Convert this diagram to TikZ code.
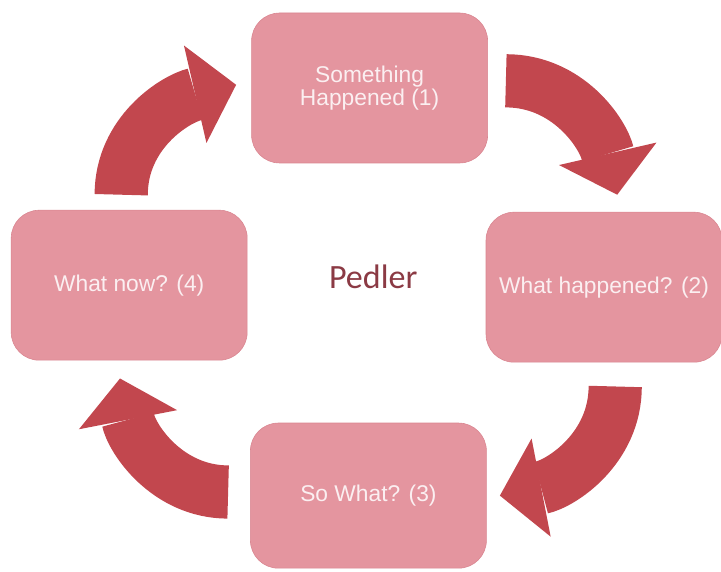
\documentclass[tikz,border=0pt]{standalone}
\usepackage{fontspec}
\setmainfont{Liberation Sans}
\newfontfamily\calfont{Carlito}
\usetikzlibrary{arrows.meta}
\definecolor{felt}{HTML}{E4959F}
\definecolor{feltedge}{HTML}{D9848F}
\definecolor{loopred}{HTML}{C2474E}
\definecolor{paper}{HTML}{FBEFF1}
\definecolor{hubtext}{HTML}{8B3A44}

\begin{document}
\begin{tikzpicture}[
  stage/.style  = {fill=felt, draw=feltedge, line width=0.4pt, rounded corners=0.7cm,
                   minimum width=5.9cm, minimum height=3.75cm, align=center,
                   text=paper, font=\fontsize{16.2}{15}\selectfont, inner sep=0pt},
  bigarr/.style = {draw=loopred, line width=1.33cm,
                   -{Triangle[length=1.05cm, width=2.5cm, line width=0pt]}},
  hub/.style    = {text=hubtext, font=\calfont\fontsize{24.2}{28}\selectfont, anchor=base},
]
\useasboundingbox (0,0) rectangle (18.025,-14.3);

% ---------- stages ----------
\node[stage] (n1) at (9.24,-2.20)  {Something\\Happened (1)};
\node[stage] (n2) at (15.10,-7.18) {What happened? (2)};
\node[stage, minimum height=3.63cm] (n3) at (9.21,-12.39) {So What? (3)};
\node[stage] (n4) at (3.23,-7.13)  {What now? (4)};

\node[hub] (hubname) at (9.33,-7.20) {Pedler};

% ---------- loop arrows ----------
\draw[bigarr] ([xshift=-0.2cm, yshift=0.38cm]n4.north) to[out=90, in=193]
  ([xshift=-0.38cm, yshift=0.08cm]n1.west);
\draw[bigarr] ([xshift=0.45cm, yshift=0.18cm]n1.east) to[out=0, in=103]
  ([xshift=0.33cm, yshift=0.43cm]n2.north);
\draw[bigarr] ([xshift=0.28cm, yshift=-0.6cm]n2.south) to[out=-90, in=11]
  ([xshift=0.33cm]n3.east);
\draw[bigarr] ([xshift=-0.55cm, yshift=0.09cm]n3.west) to[out=180, in=-79]
  ([xshift=-0.23cm, yshift=-0.45cm]n4.south);

\end{tikzpicture}
\end{document}
